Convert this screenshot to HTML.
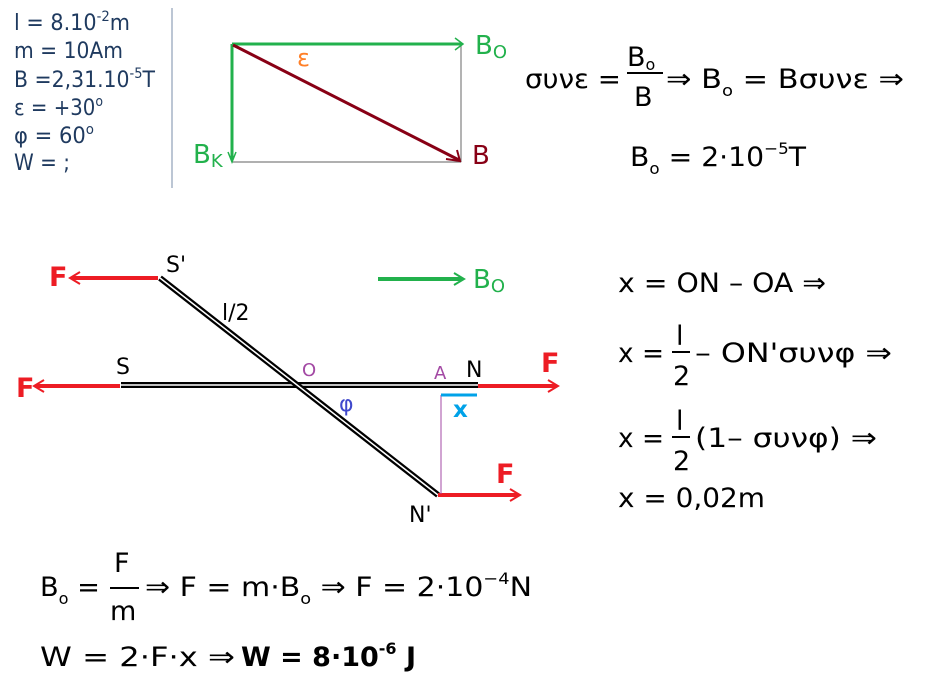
<!DOCTYPE html>
<html><head><meta charset="utf-8"><style>
html,body{margin:0;padding:0;background:#fff}
svg{display:block}
text{font-family:"DejaVu Sans","Liberation Sans",sans-serif}
.e{font-size:27px;fill:#000}
.g{fill:#22b14c}
.r{fill:#ed1c24}
</style></head><body>
<svg width="929" height="686" viewBox="0 0 929 686" xmlns="http://www.w3.org/2000/svg">
<!-- given data -->
<g font-size="22" fill="#1f3a5f">
<text x="14" y="30" textLength="116" lengthAdjust="spacingAndGlyphs">l = 8.10<tspan font-size="14" dy="-9">-2</tspan><tspan dy="9">m</tspan></text>
<text x="14" y="58" textLength="109" lengthAdjust="spacingAndGlyphs">m = 10Am</text>
<text x="14" y="87" textLength="141" lengthAdjust="spacingAndGlyphs">B =2,31.10<tspan font-size="14" dy="-9">-5</tspan><tspan dy="9">T</tspan></text>
<text x="14" y="115" textLength="89" lengthAdjust="spacingAndGlyphs">ε = +30<tspan font-size="14" dy="-9">o</tspan></text>
<text x="14" y="143" textLength="80" lengthAdjust="spacingAndGlyphs">φ = 60<tspan font-size="14" dy="-9">o</tspan></text>
<text x="14" y="170" textLength="56" lengthAdjust="spacingAndGlyphs">W = ;</text>
</g>
<line x1="172" y1="8" x2="172" y2="188" stroke="#7a8ea8" stroke-width="1"/>
<!-- vector diagram -->
<line x1="461" y1="44" x2="461" y2="162" stroke="#808080" stroke-width="1.2"/>
<line x1="232" y1="162" x2="461" y2="162" stroke="#808080" stroke-width="1.2"/>
<line x1="232" y1="44" x2="462" y2="44" stroke="#22b14c" stroke-width="3"/>
<polyline points="455,38 463,44 455,50" fill="none" stroke="#22b14c" stroke-width="1.5"/>
<line x1="232" y1="44" x2="232" y2="160" stroke="#22b14c" stroke-width="3"/>
<polyline points="228,152 232,162 236,152" fill="none" stroke="#22b14c" stroke-width="1.5"/>
<line x1="233" y1="45" x2="459" y2="160" stroke="#880015" stroke-width="3"/>
<polyline points="446,159 460,161 457,150" fill="none" stroke="#880015" stroke-width="2"/>
<text x="475" y="54" font-size="26" class="g">B<tspan font-size="18" dy="4">O</tspan></text>
<text x="297" y="66" font-size="24" fill="#ff7f27">ε</text>
<text x="193" y="163" font-size="26" class="g">B<tspan font-size="18" dy="4">K</tspan></text>
<text x="472" y="164" font-size="26" fill="#880015">B</text>
<!-- top-right equations -->
<text class="e" x="525" y="88" textLength="96" lengthAdjust="spacingAndGlyphs">συνε =</text>
<text class="e" x="627" y="66">B<tspan font-size="16" dy="4">o</tspan></text>
<line x1="627" y1="73" x2="663" y2="73" stroke="#000" stroke-width="2"/>
<text class="e" x="634" y="106">B</text>
<text class="e" x="666" y="88" textLength="238" lengthAdjust="spacingAndGlyphs">⇒ B<tspan font-size="16" dy="8">o</tspan><tspan dy="-8"> = Bσυνε ⇒</tspan></text>
<text class="e" x="630" y="166" textLength="176" lengthAdjust="spacingAndGlyphs">B<tspan font-size="16" dy="8">o</tspan><tspan dy="-8"> = 2·10</tspan><tspan font-size="16" dy="-12">−5</tspan><tspan dy="12">T</tspan></text>
<!-- rods -->
<g stroke-linecap="butt">
<line x1="121" y1="385" x2="478" y2="385" stroke="#000" stroke-width="6"/>
<line x1="121" y1="385" x2="478" y2="385" stroke="#fff" stroke-width="1.5"/>
<line x1="160" y1="278" x2="438" y2="495" stroke="#000" stroke-width="6"/>
<line x1="160" y1="278" x2="438" y2="495" stroke="#fff" stroke-width="1.5"/>
</g>
<!-- forces -->
<g stroke="#ed1c24" fill="none">
<line x1="158" y1="278" x2="72" y2="278" stroke-width="4"/>
<polyline points="80,272 70,278 80,284" stroke-width="2"/>
<line x1="120" y1="386" x2="36" y2="386" stroke-width="4"/>
<polyline points="44,380 34,386 44,392" stroke-width="2"/>
<line x1="478" y1="386" x2="556" y2="386" stroke-width="4"/>
<polyline points="548,380 558,386 548,392" stroke-width="2"/>
<line x1="438" y1="495" x2="518" y2="495" stroke-width="4"/>
<polyline points="510,489 520,495 510,501" stroke-width="2"/>
</g>
<text x="49" y="286" font-size="27" class="r" font-weight="bold">F</text>
<text x="16" y="397" font-size="27" class="r" font-weight="bold">F</text>
<text x="541" y="372" font-size="27" class="r" font-weight="bold">F</text>
<text x="496" y="483" font-size="27" class="r" font-weight="bold">F</text>
<line x1="441" y1="395" x2="441" y2="494" stroke="#a349a4" stroke-width="1"/>
<line x1="441" y1="395" x2="477" y2="395" stroke="#00a2e8" stroke-width="3"/>
<text x="453" y="417" font-size="23" fill="#00a2e8" font-weight="bold">x</text>
<line x1="378" y1="279" x2="462" y2="279" stroke="#22b14c" stroke-width="4"/>
<polyline points="454,273 464,279 454,285" fill="none" stroke="#22b14c" stroke-width="2"/>
<text x="473" y="288" font-size="26" class="g">B<tspan font-size="18" dy="4">O</tspan></text>
<g font-size="22" fill="#000">
<text x="166" y="272">S'</text>
<text x="116" y="374">S</text>
<text x="466" y="377">N</text>
<text x="409" y="522">N'</text>
<text x="222" y="320">l/2</text>
</g>
<text x="302" y="376" font-size="18" fill="#a349a4">O</text>
<text x="434" y="379" font-size="18" fill="#a349a4">A</text>
<text x="339" y="411" font-size="22" fill="#3f48cc">φ</text>
<!-- right equations -->
<text class="e" x="618" y="292" textLength="208" lengthAdjust="spacingAndGlyphs">x = ON – OA ⇒</text>
<text class="e" x="618" y="362" textLength="46" lengthAdjust="spacingAndGlyphs">x =</text>
<text class="e" x="676" y="345">l</text>
<line x1="672" y1="352" x2="690" y2="352" stroke="#000" stroke-width="2"/>
<text class="e" x="673" y="385">2</text>
<text class="e" x="695" y="362" textLength="197" lengthAdjust="spacingAndGlyphs">– ON'συνφ ⇒</text>
<text class="e" x="618" y="447" textLength="46" lengthAdjust="spacingAndGlyphs">x =</text>
<text class="e" x="676" y="430">l</text>
<line x1="672" y1="437" x2="690" y2="437" stroke="#000" stroke-width="2"/>
<text class="e" x="673" y="470">2</text>
<text class="e" x="695" y="447" textLength="182" lengthAdjust="spacingAndGlyphs">(1– συνφ) ⇒</text>
<text class="e" x="618" y="507" textLength="147" lengthAdjust="spacingAndGlyphs">x = 0,02m</text>
<!-- bottom equations -->
<text class="e" x="40" y="596" textLength="60" lengthAdjust="spacingAndGlyphs">B<tspan font-size="16" dy="8">o</tspan><tspan dy="-8"> =</tspan></text>
<text class="e" x="114" y="572">F</text>
<line x1="110" y1="588" x2="139" y2="588" stroke="#000" stroke-width="2"/>
<text class="e" x="110" y="620">m</text>
<text class="e" x="145" y="596" textLength="387" lengthAdjust="spacingAndGlyphs">⇒ F = m·B<tspan font-size="16" dy="8">o</tspan><tspan dy="-8"> ⇒ F = 2·10</tspan><tspan font-size="16" dy="-12">−4</tspan><tspan dy="12">N</tspan></text>
<text class="e" x="40" y="666" textLength="195" lengthAdjust="spacingAndGlyphs">W = 2·F·x ⇒</text>
<text class="e" x="241" y="666" font-weight="bold" textLength="175" lengthAdjust="spacingAndGlyphs">W = 8·10<tspan font-size="16" dy="-12">-6</tspan><tspan dy="12"> J</tspan></text>
</svg>
</body></html>
